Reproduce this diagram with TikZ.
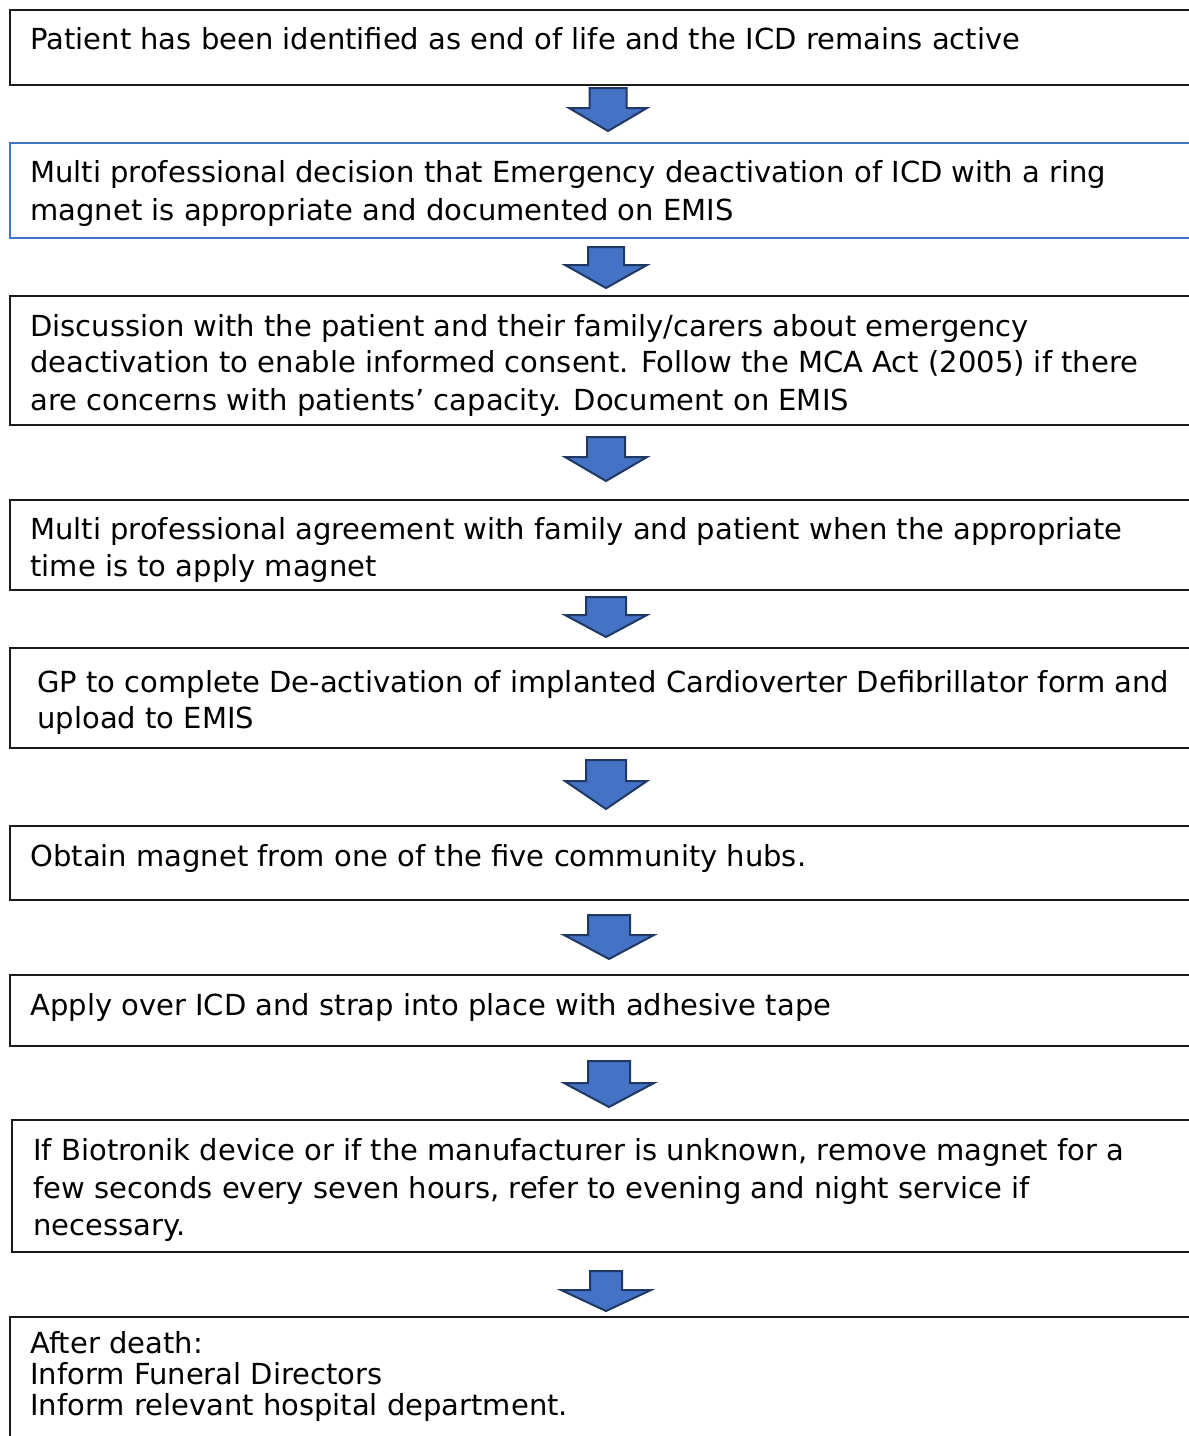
\documentclass[tikz,border=0pt]{standalone}
\usepackage{fontspec}
\setmainfont{DejaVu Sans}
\usetikzlibrary{fit}
\definecolor{arrowfill}{HTML}{4472C4}
\definecolor{arrowline}{HTML}{203864}
\definecolor{boxblue}{HTML}{4472C4}
\definecolor{boxline}{HTML}{1A1A1A}
\tikzset{
  flowbox/.style={draw=boxline, line width=0.85pt, fill=none, inner sep=0pt},
  bluebox/.style={draw=boxblue, line width=1pt, fill=none, inner sep=0pt},
  txt/.style={anchor=base west, inner sep=0pt, font=\fontsize{14.5}{18}\selectfont, text=black},
  blockarrow/.style={fill=arrowfill, draw=arrowline, line width=1pt, line join=miter}
}
% #1 cx, #2 top, #3 neck, #4 tip, #5 shaft half width, #6 head half width
\newcommand\flowarrow[6]{%
  \draw[blockarrow] ({#1-#5},#2) -- ({#1+#5},#2) -- ({#1+#5},#3) -- ({#1+#6},#3)
    -- (#1,#4) -- ({#1-#6},#3) -- ({#1-#5},#3) -- cycle;}
\begin{document}
\begin{tikzpicture}[x=0.5pt,y=-0.5pt]
\useasboundingbox (0,0) rectangle (1189,1436);
\clip (0,0) rectangle (1189,1436);
\fill[white] (0,0) rectangle (1189,1436);

% boxes
\coordinate (b1nw) at (10,10);   \coordinate (b1se) at (1200,85);
\coordinate (b2nw) at (10,143);  \coordinate (b2se) at (1200,238);
\coordinate (b3nw) at (10,296);  \coordinate (b3se) at (1200,425);
\coordinate (b4nw) at (10,500);  \coordinate (b4se) at (1200,590);
\coordinate (b5nw) at (10,648);  \coordinate (b5se) at (1200,748);
\coordinate (b6nw) at (10,826);  \coordinate (b6se) at (1200,900);
\coordinate (b7nw) at (10,975);  \coordinate (b7se) at (1200,1046);
\coordinate (b8nw) at (12,1120); \coordinate (b8se) at (1200,1252);
\coordinate (b9nw) at (10,1317); \coordinate (b9se) at (1200,1460);
\node[flowbox, fit=(b1nw)(b1se)] (b1) {};
\node[bluebox, fit=(b2nw)(b2se)] (b2) {};
\node[flowbox, fit=(b3nw)(b3se)] (b3) {};
\node[flowbox, fit=(b4nw)(b4se)] (b4) {};
\node[flowbox, fit=(b5nw)(b5se)] (b5) {};
\node[flowbox, fit=(b6nw)(b6se)] (b6) {};
\node[flowbox, fit=(b7nw)(b7se)] (b7) {};
\node[flowbox, fit=(b8nw)(b8se)] (b8) {};
\node[flowbox, fit=(b9nw)(b9se)] (b9) {};

% texts
\node[txt] (t1a) at (30,49) {Patient has been identified as end of life and the ICD remains active};

\node[txt] (t2a) at (30,182) {Multi professional decision that Emergency deactivation of ICD with a ring};
\node[txt] (t2b) at (30,220) {magnet is appropriate and documented on EMIS};

\node[txt] (t3a) at (30,336) {Discussion with the patient and their family/carers about emergency};
\node[txt] (t3b) at (30,372) {deactivation to enable informed consent. Follow the MCA Act (2005) if there};
\node[txt] (t3c) at (30,410) {are concerns with patients’ capacity. Document on EMIS};

\node[txt] (t4a) at (30,539) {Multi professional agreement with family and patient when the appropriate};
\begin{scope}
\clip (0,500) rectangle (1189,581);
\node[txt] (t4b) at (30,576) {time is to apply magnet};
\end{scope}

\node[txt] (t5a) at (37,692) {GP to complete De-activation of implanted Cardioverter Defibrillator form and};
\node[txt] (t5b) at (37,728) {upload to EMIS};

\node[txt] (t6a) at (30,866) {Obtain magnet from one of the five community hubs.};

\node[txt] (t7a) at (30,1015) {Apply over ICD and strap into place with adhesive tape};

\node[txt] (t8a) at (33,1160) {If Biotronik device or if the manufacturer is unknown, remove magnet for a};
\node[txt] (t8b) at (33,1198) {few seconds every seven hours, refer to evening and night service if};
\node[txt] (t8c) at (33,1235) {necessary.};

\node[txt] (t9a) at (30,1353) {After death:};
\node[txt] (t9b) at (30,1384) {Inform Funeral Directors};
\node[txt] (t9c) at (30,1415) {Inform relevant hospital department.};

% block arrows
\flowarrow{608}{88}{108}{131}{18.5}{39}
\flowarrow{606}{247}{265}{288}{18}{41}
\flowarrow{606}{437}{457}{481}{19}{41}
\flowarrow{606}{597}{615}{637}{20}{41}
\flowarrow{606}{760}{781}{809}{20}{41}
\flowarrow{609}{915}{935}{959}{21}{45}
\flowarrow{609}{1061}{1083}{1107}{21}{45}
\flowarrow{606}{1271}{1290}{1311}{16}{45}
\end{tikzpicture}
\end{document}
